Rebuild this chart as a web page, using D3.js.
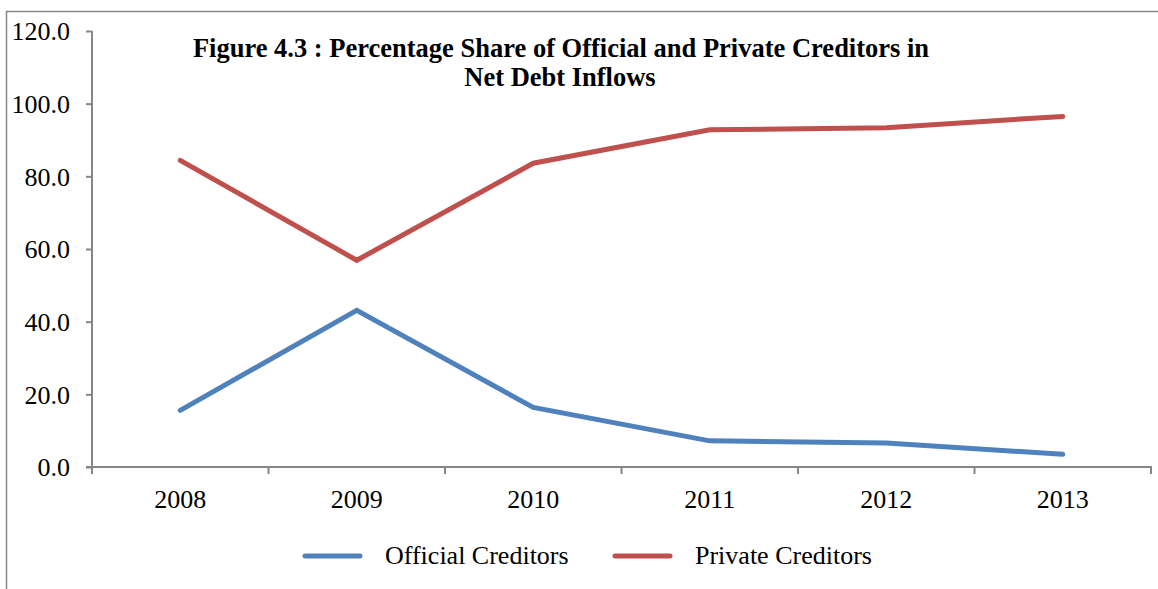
<!DOCTYPE html>
<html>
<head>
<meta charset="utf-8">
<script src="https://cdn.jsdelivr.net/npm/d3@7"></script>
<style>
  html, body { margin: 0; padding: 0; background: #fff; }
  svg { display: block; }
  text { font-family: "Liberation Serif", "Times New Roman", serif; fill: #000; }
</style>
</head>
<body>
<svg id="chart" width="1158" height="589"></svg>
<script>
// Years on the horizontal axis
const years = ["2008", "2009", "2010", "2011", "2012", "2013"];
// Share of net debt inflows (%) by creditor type
const officialCreditors = [15.6, 43.1, 16.4, 7.2, 6.6, 3.5];
const privateCreditors  = [84.4, 56.9, 83.6, 92.8, 93.4, 96.5];
// Vertical axis ticks
const yTicks = [0, 20, 40, 60, 80, 100, 120];

const seriesNames = ["Official Creditors", "Private Creditors"];
const seriesColors = ["#4F81BD", "#C0504D"];
const series = [officialCreditors, privateCreditors];

const fontSize = 26;
const svg = d3.select("#chart");

// Outer chart frame
svg.append("rect")
  .attr("x", 6.5).attr("y", 11.5)
  .attr("width", 1200).attr("height", 700)
  .attr("fill", "none").attr("stroke", "#868686").attr("stroke-width", 1.5);

const plot = { left: 92, right: 1151, top: 31, bottom: 467 };

const x = d3.scaleBand().domain(years).range([plot.left, plot.right]);
const y = d3.scaleLinear().domain([0, 120]).range([plot.bottom, plot.top]);

// Y axis
const yAxis = svg.append("g")
  .attr("transform", `translate(${plot.left},0)`)
  .call(d3.axisLeft(y).tickValues(yTicks).tickFormat(d3.format(".1f")).tickSize(6).tickPadding(16));
yAxis.select(".domain").attr("stroke", "#868686").attr("stroke-width", 2).attr("d", `M0,${plot.top}V${plot.bottom}`);
yAxis.selectAll(".tick line").attr("stroke", "#868686").attr("stroke-width", 2);
yAxis.selectAll(".tick text")
  .attr("font-size", fontSize)
  .attr("font-family", "Liberation Serif")
  .attr("fill", "#000")
  .attr("dy", "0.34em");

// X axis with tick marks at the band boundaries
const xAxisG = svg.append("g").attr("transform", `translate(0,${plot.bottom})`);
xAxisG.append("line")
  .attr("x1", plot.left - 6).attr("x2", plot.right + 1)
  .attr("stroke", "#868686").attr("stroke-width", 2);
const boundaries = years.map(d => x(d)).concat([plot.right]);
xAxisG.selectAll("line.tick").data(boundaries).join("line")
  .attr("class", "tick")
  .attr("x1", d => d).attr("x2", d => d)
  .attr("y1", 0).attr("y2", 7)
  .attr("stroke", "#868686").attr("stroke-width", 2);
xAxisG.selectAll("text").data(years).join("text")
  .attr("x", d => x(d) + x.bandwidth() / 2)
  .attr("y", 41)
  .attr("text-anchor", "middle")
  .attr("font-size", fontSize)
  .text(d => d);

// Lines
const line = d3.line()
  .x((d, i) => x(years[i]) + x.bandwidth() / 2)
  .y(d => y(d));

series.forEach((s, k) => {
  svg.append("path")
    .datum(s)
    .attr("d", line)
    .attr("fill", "none")
    .attr("stroke", seriesColors[k])
    .attr("stroke-width", 5)
    .attr("stroke-linecap", "round")
    .attr("stroke-linejoin", "miter");
});

// Title
const title = svg.append("text")
  .attr("text-anchor", "middle")
  .attr("font-weight", "bold")
  .attr("font-size", 26.5);
title.append("tspan").attr("x", 561).attr("y", 57)
  .text("Figure 4.3 : Percentage Share of Official and Private Creditors in");
title.append("tspan").attr("x", 560).attr("y", 86)
  .text("Net Debt Inflows");

// Legend
const legendX = [305, 615];
const legend = svg.append("g");
seriesNames.forEach((name, k) => {
  legend.append("line")
    .attr("x1", legendX[k]).attr("x2", legendX[k] + 55)
    .attr("y1", 556).attr("y2", 556)
    .attr("stroke", seriesColors[k]).attr("stroke-width", 5)
    .attr("stroke-linecap", "round");
  legend.append("text")
    .attr("x", legendX[k] + 80).attr("y", 564)
    .attr("font-size", fontSize)
    .text(name);
});
</script>
</body>
</html>
